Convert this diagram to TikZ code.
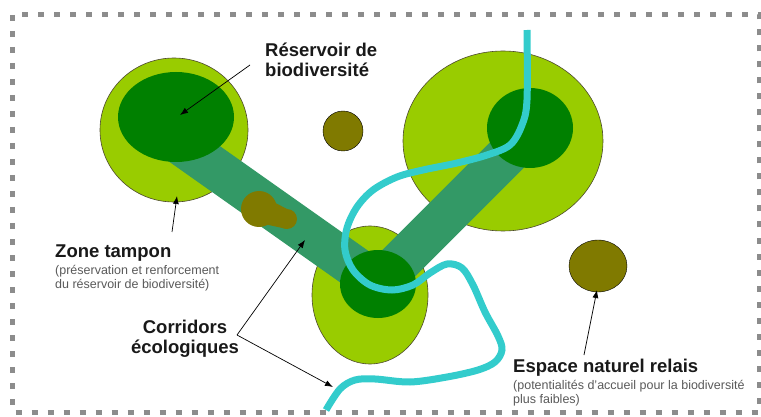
\documentclass[tikz,border=0pt]{standalone}
\usepackage{fontspec}
\setmainfont{Liberation Sans}
\usetikzlibrary{arrows.meta}

\definecolor{zonevert}{RGB}{153,204,0}
\definecolor{coeurvert}{RGB}{0,128,0}
\definecolor{corridor}{RGB}{51,153,102}
\definecolor{relais}{RGB}{128,122,0}
\definecolor{riviere}{RGB}{51,204,204}
\definecolor{cadre}{RGB}{140,140,140}

\tikzset{
  zone/.style={fill=zonevert, draw=black!60!olive, line width=0.6pt},
  coeur/.style={fill=coeurvert},
  lien/.style={line width=42pt, color=corridor},
  espace/.style={fill=relais},
  titre/.style={font=\fontsize{18.5}{20}\selectfont\bfseries, text=black!90, inner sep=0pt},
  legende/.style={font=\fontsize{12.5}{14}\selectfont, text=black!65, inner sep=0pt},
  fleche/.style={-{Latex[length=8pt,width=6pt]}, line width=0.7pt}
}

\begin{document}
\begin{tikzpicture}[x=1pt, y=-1pt]
\useasboundingbox (0,0) rectangle (761,417);

\coordinate (R1) at (176,117);
\coordinate (R2) at (530,128);
\coordinate (R3) at (378,284);
\coordinate (ARES) at (250,65);
\coordinate (AZT) at (172,232);
\coordinate (ACOR) at (237,335);
\coordinate (AESP) at (584,355);

% zones tampons
\draw[zone] (174,130) ellipse (74 and 72);
\draw[zone] (503,141) ellipse (100 and 90);
\draw[zone] (370,295) ellipse (58 and 69);

% espaces relais
\draw[espace] (343,131) circle (20);
\draw[espace] (598,266) ellipse (29 and 26);

% corridors
\draw[lien] (172,138) -- (376,282);
\draw[lien] (R3) -- (532,130);
\fill[relais] (259,209) circle (18);
\fill[relais] (287,219) circle (10);
\fill[relais] (264,197) -- (287,209) -- (287,229) -- (264,224) -- cycle;

% reservoirs
\fill[coeur] (R1) ellipse (58 and 45);
\fill[coeur] (R2) ellipse (43 and 40);
\fill[coeur] (R3) ellipse (38 and 34);

% riviere
\draw[riviere, line width=7pt] plot[smooth, tension=0.55] coordinates {
  (527,30) (527,100) (522,125) (510,145) (487,155) (457,163) (423,170)
  (397,177) (373,190) (357,207) (347,228) (345,250) (353,270) (370,285)
  (392,290) (413,285) (430,273) (447,264) (462,268) (473,285) (485,312)
  (498,336) (502,350) (495,362) (478,370) (447,377) (410,382) (375,379)
  (355,380) (340,389) (326,410)};

% textes (base = derniere ligne)
\node[titre, anchor=base west, align=left] (RES) at (265,77) {Réservoir de\\biodiversité};
\node[titre, anchor=base west] (ZT) at (55,258) {Zone tampon};
\node[legende, anchor=base west, align=left] (ZTs) at (55,288)
  {(préservation et renforcement\\du réservoir de biodiversité)};
\node[titre, anchor=base, align=center] (COR) at (185,353) {Corridors\\écologiques};
\node[titre, anchor=base west] (ESP) at (513,372) {Espace naturel relais};
\node[legende, anchor=base west, align=left] (ESPs) at (513,403)
  {(potentialités d’accueil pour la biodiversité\\plus faibles)};

% fleches
\draw[fleche] (ARES) -- (180,115);
\draw[fleche] (AZT) -- (177,196);
\draw[fleche] (ACOR) -- (305,240);
\draw[fleche] (ACOR) -- (333,387);
\draw[fleche] (AESP) -- (597,290);

% cadre
\draw[cadre, line width=5pt, dash pattern=on 6pt off 10pt] (12.5,15) rectangle (759,412);
\end{tikzpicture}
\end{document}
